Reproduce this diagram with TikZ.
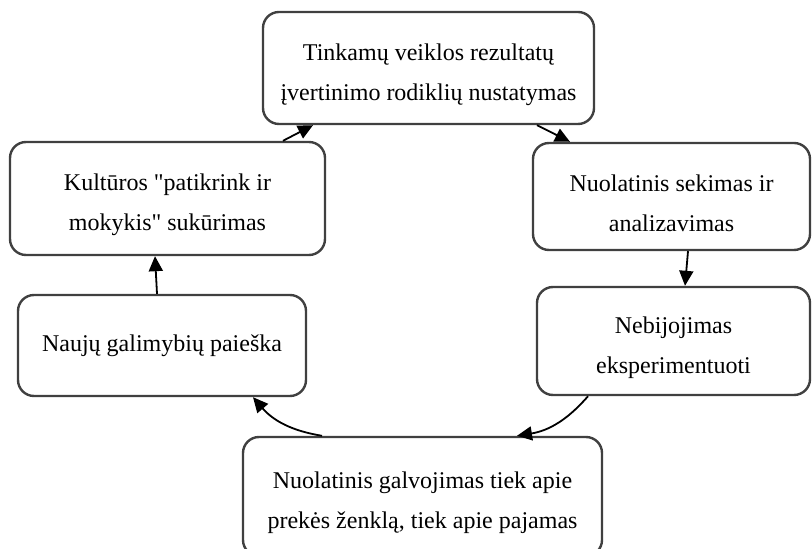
\documentclass[tikz,border=0pt]{standalone}
\usepackage{fontspec}
\setmainfont{Liberation Serif}[Ligatures=TeXOff]
\usetikzlibrary{arrows.meta,positioning}
\newcommand{\virsus}{\rule{0pt}{15pt}}

\begin{document}
\begin{tikzpicture}[x=0.5pt,y=-0.5pt,box/.style={draw=black!75,line width=1.2pt,rounded corners=8pt,align=center,fill=white,inner sep=0pt,font=\fontsize{12}{20}\selectfont},arr/.style={-{Triangle[length=7.5pt,width=7pt]},line width=0.9pt}]
\useasboundingbox (0,0) rectangle (812,549);
\node[box,minimum width=165.5pt,minimum height=56pt] (rodikliai) at (428.5,68) {\virsus Tinkamų veiklos rezultatų\\įvertinimo rodiklių nustatymas};
\node[box,minimum width=138.5pt,minimum height=53.5pt] (sekimas) at (671.5,196.5) {\virsus Nuolatinis sekimas ir\\analizavimas};
\node[box,minimum width=136.5pt,minimum height=54pt] (eksperimentai) at (673.5,341) {\virsus Nebijojimas\\eksperimentuoti};
\node[box,minimum width=179.5pt,minimum height=59.5pt] (galvojimas) at (422.5,496.5) {\virsus Nuolatinis galvojimas tiek apie\\prekės ženklą, tiek apie pajamas};
\node[box,minimum width=144pt,minimum height=50.5pt] (paieska) at (162,345.5) {Naujų galimybių paieška};
\node[box,minimum width=157.5pt,minimum height=56.5pt] (kultura) at (167.5,198.5) {\virsus Kultūros "patikrink ir\\mokykis" sukūrimas};
\draw[arr] ([xshift=57.75pt]kultura.north)--([xshift=-57.75pt]rodikliai.south);
\draw[arr] ([xshift=54.25pt]rodikliai.south)--([xshift=-50.75pt]sekimas.north);
\draw[arr] ([xshift=8.25pt]sekimas.south)--([xshift=5.75pt]eksperimentai.north);
\draw[arr] ([xshift=-42.75pt]eksperimentai.south) to[bend left=20] ([xshift=47.25pt]galvojimas.north);
\draw[arr] ([xshift=-50.25pt]galvojimas.north) to[bend left=20] ([xshift=45.5pt]paieska.south);
\draw[arr] ([xshift=-2.5pt]paieska.north)--([xshift=-6.25pt]kultura.south);
\end{tikzpicture}
\end{document}
